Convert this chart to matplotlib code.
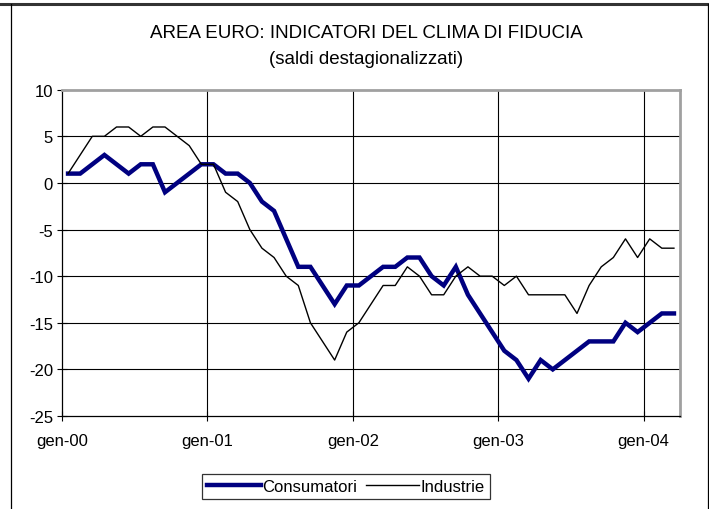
import matplotlib
matplotlib.use("Agg")
import matplotlib.pyplot as plt
from matplotlib.lines import Line2D
import numpy as np

plt.rcParams['font.family'] = ['Liberation Sans', 'DejaVu Sans']
plt.rcParams['axes.unicode_minus'] = False

consumatori = [1, 1, 2, 3, 2, 1, 2, 2, -1, 0, 1, 2,
               2, 1, 1, 0, -2, -3, -6, -9, -9, -11, -13, -11,
               -11, -10, -9, -9, -8, -8, -10, -11, -9, -12, -14, -16,
               -18, -19, -21, -19, -20, -19, -18, -17, -17, -17, -15, -16,
               -15, -14, -14]
industrie = [1, 3, 5, 5, 6, 6, 5, 6, 6, 5, 4, 2,
             2, -1, -2, -5, -7, -8, -10, -11, -15, -17, -19, -16,
             -15, -13, -11, -11, -9, -10, -12, -12, -10, -9, -10, -10,
             -11, -10, -12, -12, -12, -12, -14, -11, -9, -8, -6, -8,
             -6, -7, -7]
year_labels = ["gen-00", "gen-01", "gen-02", "gen-03", "gen-04"]
y_ticks = [10, 5, 0, -5, -10, -15, -20, -25]

n = len(consumatori)
x = np.arange(n) + 0.5

fig = plt.figure(figsize=(7.09, 5.10), dpi=100)
ax = fig.add_axes([62/709, 1 - 417/510, (680 - 62)/709, (417 - 90.7)/510])

ax.plot(x, consumatori, color='#000080', lw=3.2, solid_joinstyle='miter', label='Consumatori', zorder=3)
ax.plot(x, industrie, color='black', lw=1.0, label='Industrie', zorder=3)

ax.set_xlim(0, n)
ax.set_ylim(-25, 10)
ax.set_yticks(y_ticks)
ax.set_yticklabels([str(v) for v in y_ticks])
ax.set_xticks(np.arange(len(year_labels)) * 12)
ax.set_xticklabels(year_labels)

for v in y_ticks:
    if -25 < v < 10:
        ax.axhline(v, color='black', lw=0.8, zorder=1)
for k in range(1, len(year_labels)):
    ax.axvline(k * 12, color='black', lw=0.8, zorder=1)

ax.tick_params(axis='both', direction='inout', length=7, width=0.8, labelsize=12, colors='black')
ax.tick_params(axis='x', pad=9)
ax.tick_params(axis='y', pad=3)
for s in ['left', 'bottom']:
    ax.spines[s].set_color('black')
    ax.spines[s].set_linewidth(0.9)
for s in ['top', 'right']:
    ax.spines[s].set_color('#a0a0a0')
    ax.spines[s].set_linewidth(2.0)

fig.text(366/709, 1 - 33/510, "AREA EURO: INDICATORI DEL CLIMA DI FIDUCIA",
         ha='center', va='center', fontsize=13.5)
fig.text(366/709, 1 - 60/510, "(saldi destagionalizzati)",
         ha='center', va='center', fontsize=13.5)

leg = ax.legend(loc='center', bbox_to_anchor=(346/709, 1 - 487/510), bbox_transform=fig.transFigure,
                ncol=2, frameon=True, fancybox=False, fontsize=12, handlelength=3.2,
                handletextpad=0.1, columnspacing=0.5, borderpad=0.3, borderaxespad=0)
leg.get_frame().set_edgecolor('black')
leg.get_frame().set_linewidth(0.9)

# figure frame
fig.add_artist(Line2D([0, 1], [1 - 5/510, 1 - 5/510], transform=fig.transFigure, color='#333333', lw=2.2))
fig.add_artist(Line2D([10.5/709, 10.5/709], [0, 1 - 5/510], transform=fig.transFigure, color='black', lw=0.9))
fig.add_artist(Line2D([707.5/709, 707.5/709], [0, 1 - 5/510], transform=fig.transFigure, color='black', lw=0.9))

fig.savefig("out.png", dpi=100)
